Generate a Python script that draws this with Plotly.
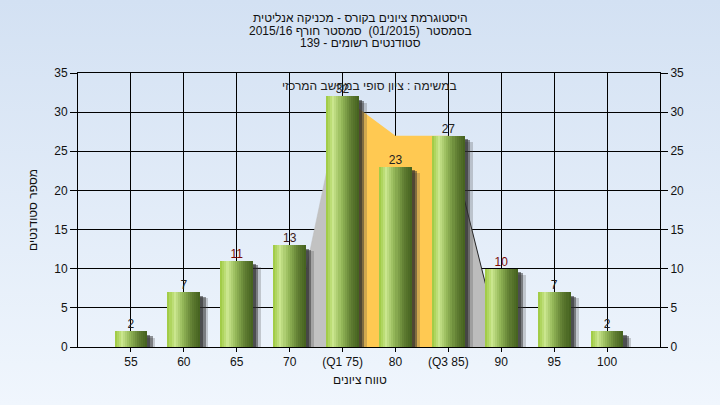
import base64
import plotly.graph_objects as go

# ---------------- data ----------------
categories = ["55", "60", "65", "70", "(Q1 75)", "80", "(Q3 85)", "90", "95", "100"]
counts = [2, 7, 11, 13, 32, 23, 27, 10, 7, 2]
area_categories = ["70", "(Q1 75)", "80", "(Q3 85)", "90"]
area_values = [0, 32, 27, 27, 0]
y_ticks = [0, 5, 10, 15, 20, 25, 30, 35]

title_lines = [
    "היסטוגרמת ציונים בקורס - מכניקה אנליטית",
    "בסמסטר  (01/2015)  סמסטר חורף 2015/16",
    "סטודנטים רשומים - 139",
]
note_text = "במשימה : ציון סופי במחשב המרכזי"
x_title = "טווח ציונים"
y_title = "מספר סטודנטים"

# ---------------- styling ----------------
FONT = "Liberation Sans, Arial, DejaVu Sans, sans-serif"
W, H = 720, 405
L, R, T, B = 78, 60, 73, 58
PW, PH = W - L - R, H - T - B

pos = list(range(1, len(categories) + 1))
pos_of = {c: p for c, p in zip(categories, pos)}
area_pos = [pos_of[c] for c in area_categories]

label_colors = ["#222222", "#222222", "#7a0a0a", "#3a1a1a", "#222222",
                "#222222", "#222222", "#7a0a0a", "#222222", "#222222"]

fig = go.Figure()

# background area (on base axes, drawn below bars)
fig.add_trace(go.Scatter(x=area_pos[0:2], y=area_values[0:2], fill="tozeroy",
                         fillcolor="#c2c2c2", mode="lines",
                         line=dict(color="#bdbdbd", width=0.5),
                         hoverinfo="skip", showlegend=False))
fig.add_trace(go.Scatter(x=area_pos[1:4], y=area_values[1:4], fill="tozeroy",
                         fillcolor="#ffc952", mode="lines",
                         line=dict(color="#ffc952", width=0),
                         hoverinfo="skip", showlegend=False))
fig.add_trace(go.Scatter(x=area_pos[3:5], y=area_values[3:5], fill="tozeroy",
                         fillcolor="#bcbcbc", mode="lines",
                         line=dict(color="#222222", width=1),
                         hoverinfo="skip", showlegend=False))

# bars on overlay axes
bw = 0.62
shift = 0.10


def shadow(dx, drop, color):
    fig.add_trace(go.Bar(x=pos, y=[v - drop for v in counts], width=bw,
                         offset=-bw / 2 + dx, marker=dict(color=color, line=dict(width=0)),
                         xaxis="x2", yaxis="y2", hoverinfo="skip", showlegend=False))


shadow(shift + 0.05, 0.8, "rgba(70,70,70,0.25)")
shadow(shift, 0.55, "rgba(50,50,50,0.5)")
shadow(shift - 0.04, 0.45, "rgba(40,40,40,0.55)")

stops = [(0.0, (155, 200, 60)), (0.22, (202, 230, 142)), (0.45, (150, 186, 90)),
         (0.75, (95, 125, 50)), (1.0, (68, 96, 30))]


def col(t):
    for (t0, c0), (t1, c1) in zip(stops[:-1], stops[1:]):
        if t <= t1:
            f = (t - t0) / (t1 - t0) if t1 > t0 else 0
            return "rgb(%d,%d,%d)" % tuple(round(a + (b - a) * f) for a, b in zip(c0, c1))
    return "rgb(%d,%d,%d)" % stops[-1][1]


N = 16
sw = bw / N
for k in range(N):
    t = (k + 0.5) / N
    fig.add_trace(go.Bar(x=pos, y=counts, width=sw * 1.15 if k < N - 1 else sw,
                         offset=-bw / 2 + k * sw,
                         marker=dict(color=col(t), line=dict(width=0)),
                         xaxis="x2", yaxis="y2", hoverinfo="skip", showlegend=False))

# value labels
fig.add_trace(go.Scatter(x=pos, y=counts, mode="text", text=[str(v) for v in counts],
                         textposition="top center",
                         textfont=dict(family=FONT, size=12, color=label_colors),
                         xaxis="x2", yaxis="y2", cliponaxis=False,
                         hoverinfo="skip", showlegend=False))

# gradient page background
svg = ('<svg xmlns="http://www.w3.org/2000/svg" width="720" height="405">'
       '<defs><linearGradient id="g" x1="0" y1="0" x2="0" y2="1">'
       '<stop offset="0" stop-color="#d3e1f3"/><stop offset="1" stop-color="#f0f6fd"/>'
       '</linearGradient></defs><rect width="720" height="405" fill="url(#g)"/></svg>')
uri = "data:image/svg+xml;base64," + base64.b64encode(svg.encode()).decode()

annotations = []
for i, line in enumerate(title_lines):
    annotations.append(dict(text=line, xref="paper", yref="paper",
                            x=(W / 2 - L) / PW, y=1 + (T - (18 + 12.5 * i)) / PH,
                            xanchor="center", yanchor="middle", showarrow=False,
                            font=dict(family=FONT, size=12, color="#111111")))
annotations.append(dict(text=note_text, xref="paper", yref="paper", x=0.5, y=1,
                        yshift=-13, xanchor="center", yanchor="middle", showarrow=False,
                        font=dict(family=FONT, size=12, color="#222222")))
annotations.append(dict(text=x_title, xref="paper", yref="paper",
                        x=(W / 2 - L) / PW, y=-(380 - (T + PH)) / PH,
                        xanchor="center", yanchor="middle", showarrow=False,
                        font=dict(family=FONT, size=12, color="#111111")))
annotations.append(dict(text=y_title, xref="paper", yref="paper",
                        x=-(L - 33) / PW, y=0.5, textangle=-90,
                        xanchor="center", yanchor="middle", showarrow=False,
                        font=dict(family=FONT, size=12, color="#111111")))

fig.update_layout(
    width=W, height=H,
    margin=dict(l=L, r=R, t=T, b=B, pad=0),
    paper_bgcolor="#e4edf8",
    plot_bgcolor="#b4b4b4",
    barmode="overlay",
    bargap=0,
    showlegend=False,
    font=dict(family=FONT, size=12, color="#111111"),
    images=[dict(source=uri, xref="paper", yref="paper", x=-L / PW, y=1 + T / PH,
                 sizex=W / PW, sizey=H / PH, sizing="stretch", xanchor="left",
                 yanchor="top", layer="below")],
    annotations=annotations,
    xaxis=dict(range=[0, len(categories) + 1], tickvals=pos, ticktext=categories,
               showgrid=True, gridcolor="#000000", gridwidth=1,
               showline=True, linecolor="#000000", linewidth=1, mirror=True,
               ticks="outside", ticklen=4, tickcolor="#000000",
               tickfont=dict(family=FONT, size=12, color="#111111"), zeroline=False),
    yaxis=dict(range=[0, 35], tickvals=y_ticks, showgrid=True, gridcolor="#000000",
               gridwidth=1, showline=True, linecolor="#000000", linewidth=1, mirror=True,
               ticks="outside", ticklen=7, tickcolor="#000000",
               tickfont=dict(family=FONT, size=12, color="#111111"), zeroline=False),
    xaxis2=dict(range=[0, len(categories) + 1], overlaying="x", visible=False),
    yaxis2=dict(range=[0, 35], tickvals=y_ticks, overlaying="y", side="right",
                showgrid=False, showline=False, ticks="outside", ticklen=7,
                tickcolor="#000000", zeroline=False,
                tickfont=dict(family=FONT, size=12, color="#111111")),
)

fig.write_html(
    "out.html",
    config={"displayModeBar": False},
    post_script="document.body.style.margin='0';document.body.style.padding='0';"
                "document.body.style.background='#e4edf8';",
)
